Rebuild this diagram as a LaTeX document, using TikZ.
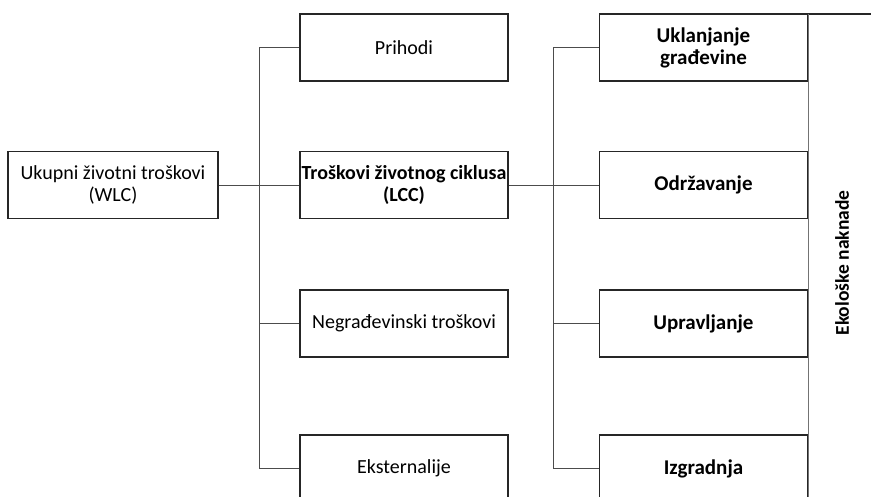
\documentclass[tikz,border=0pt]{standalone}
\usepackage{fontspec}
\setmainfont{Carlito}
\begin{document}
\begin{tikzpicture}[x=1pt,y=-1pt,
  box/.style={draw=black!85,line width=1.3pt,minimum width=208pt,minimum height=67pt,inner sep=0pt,align=center,font=\fontsize{20}{22}\selectfont},
  bbox/.style={box,font=\fontsize{21}{22}\selectfont\bfseries},
  conn/.style={draw=black!70,line width=0.8pt}]
\useasboundingbox (0,0) rectangle (871,497);
\clip (0,0) rectangle (871,497);
\node[box,minimum width=210pt] (wlc) at (113,185) {Ukupni životni troškovi\\(WLC)};
\node[box] (pri) at (404,47.5) {Prihodi};
\node[bbox,font=\fontsize{20}{22}\selectfont\bfseries] (lcc) at (404,185) {Troškovi životnog ciklusa\\(LCC)};
\node[box] (neg) at (404,323.5) {Negrađevinski troškovi};
\node[box] (eks) at (404,468.5) {Eksternalije};
\node[bbox] (ukl) at (703.5,47.5) {Uklanjanje\\građevine};
\node[bbox] (odr) at (703.5,185) {Održavanje};
\node[bbox] (upr) at (703.5,323.5) {Upravljanje};
\node[bbox] (izg) at (703.5,468.5) {Izgradnja};
\draw[line width=1.3pt,draw=black!85] (808,14) -- (880,14);
\draw[line width=1pt,draw=black!55] (808,14) -- (808,510);
\node[rotate=90,font=\fontsize{19.5}{22}\selectfont\bfseries] (eko) at (842,263) {Ekološke naknade};
\coordinate (busL) at (259,0);
\coordinate (busR) at (553,0);
\draw[conn] (wlc.east) -- (lcc.west);
\draw[conn] (pri.west) -- (pri.west -| busL) -- (eks.west -| busL) -- (eks.west);
\draw[conn] (neg.west) -- (neg.west -| busL);
\draw[conn] (lcc.east) -- (odr.west);
\draw[conn] (ukl.west) -- (ukl.west -| busR) -- (izg.west -| busR) -- (izg.west);
\draw[conn] (upr.west) -- (upr.west -| busR);
\end{tikzpicture}
\end{document}
